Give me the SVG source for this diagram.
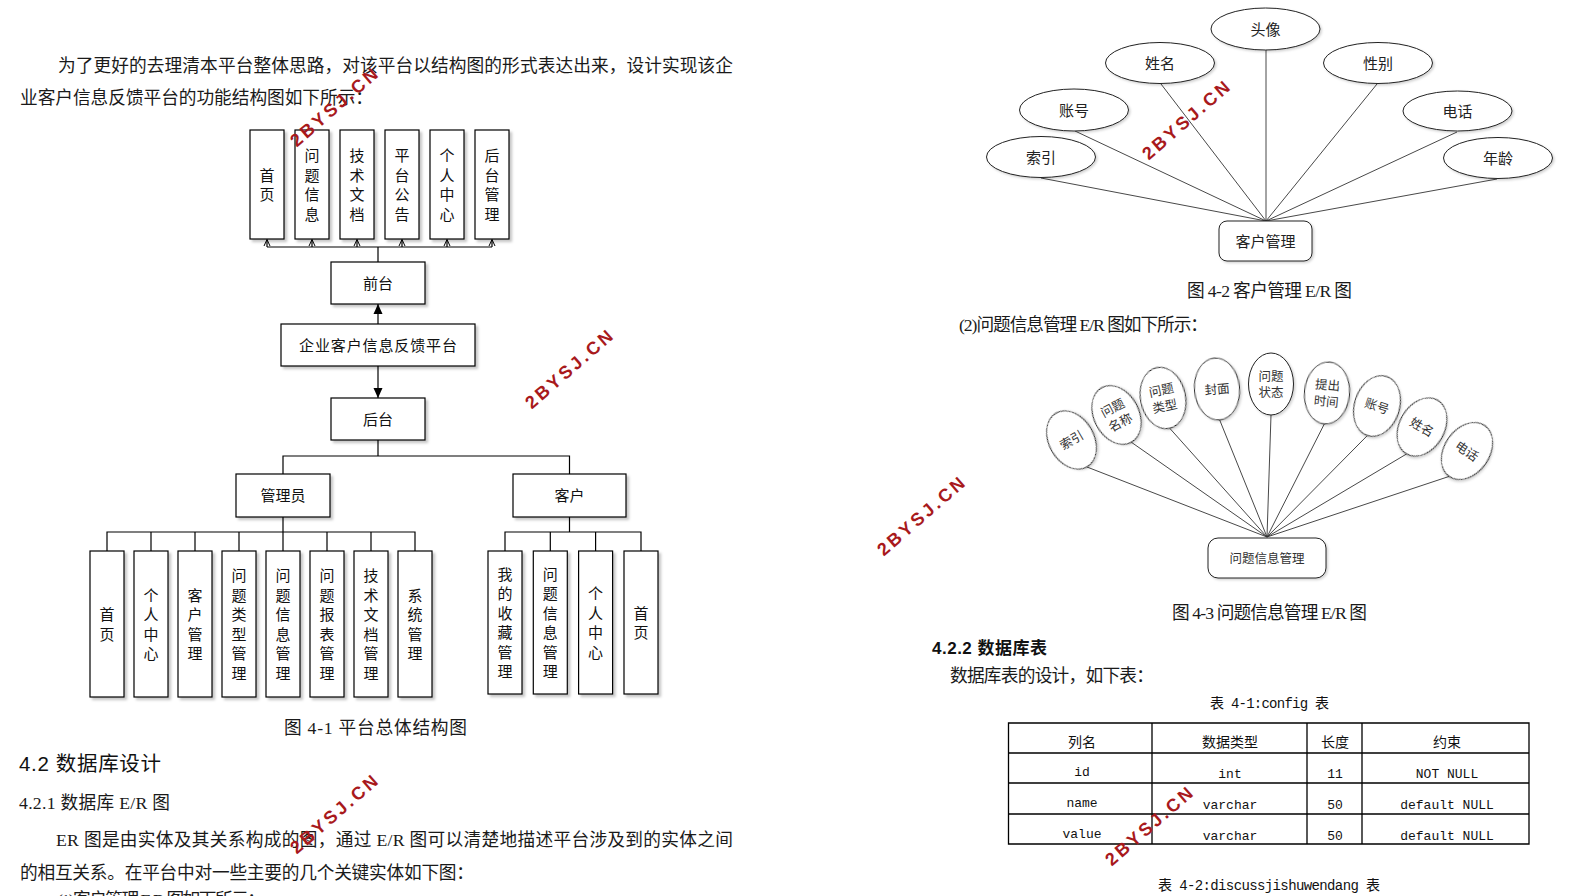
<svg xmlns="http://www.w3.org/2000/svg" width="1589" height="896" viewBox="0 0 1589 896">
<defs>
<style>
.bx{fill:#fff;stroke:#000;stroke-width:1.2;filter:url(#sh)}
.vt{font-family:"Noto Sans CJK SC",sans-serif;font-size:15px;fill:#111;text-anchor:middle}
.ct{font-family:"Noto Sans CJK SC",sans-serif;font-size:15px;fill:#111;text-anchor:middle}
.p{font-family:"Liberation Serif","Noto Sans CJK SC",serif;font-size:17.7px;fill:#1a1a1a}
.h{font-family:"Liberation Sans","Noto Sans CJK SC",sans-serif;fill:#111}
.ln{stroke:#000;stroke-width:1.2;fill:none}
.el{fill:#fff;stroke:#222;stroke-width:1;filter:url(#sh2)}
.erl{stroke:#333;stroke-width:0.9;fill:none}
.et{font-family:"Noto Sans CJK SC",sans-serif;font-size:15px;fill:#222;text-anchor:middle}
.e2{font-family:"Noto Sans CJK SC",sans-serif;font-size:12.5px;fill:#333;text-anchor:middle}
.tb{stroke:#000;stroke-width:1.3;fill:none}
.th{font-family:"Noto Sans CJK SC",sans-serif;font-size:14px;fill:#111;text-anchor:middle}
.tm{font-family:"Liberation Mono",monospace;font-size:13px;fill:#111;text-anchor:middle}
.wm{font-family:"Liberation Sans",sans-serif;font-weight:bold;font-size:18px;fill:#a8191c;letter-spacing:3px;text-anchor:middle}
</style>
<filter id="sh" x="-20%" y="-20%" width="150%" height="150%"><feDropShadow dx="2.5" dy="2.5" stdDeviation="1.2" flood-color="#000" flood-opacity="0.22"/></filter>
<filter id="sh2" x="-20%" y="-20%" width="150%" height="150%"><feDropShadow dx="1.5" dy="1.5" stdDeviation="1" flood-color="#000" flood-opacity="0.18"/></filter>
<marker id="oa" viewBox="0 0 8 8" refX="7.5" refY="4" markerWidth="8" markerHeight="8" markerUnits="userSpaceOnUse" orient="auto"><path d="M1,1 L7.5,4 L1,7" fill="none" stroke="#000" stroke-width="1"/></marker>
<marker id="fa" viewBox="0 0 10 10" refX="10" refY="5" markerWidth="10" markerHeight="10" markerUnits="userSpaceOnUse" orient="auto"><path d="M0,0.5 L10,5 L0,9.5 Z" fill="#000"/></marker>
</defs>
<rect width="1589" height="896" fill="#fff"/>

<!-- paragraph texts left -->
<g id="text-left">
<text class="p" x="58" y="71.7" textLength="675" lengthAdjust="spacing">为了更好的去理清本平台整体思路，对该平台以结构图的形式表达出来，设计实现该企</text>
<text class="p" x="20" y="103.5" textLength="353" lengthAdjust="spacing">业客户信息反馈平台的功能结构图如下所示：</text>
<text class="p" x="284" y="733.5" font-size="17" textLength="183" lengthAdjust="spacing">图 4-1  平台总体结构图</text>
<text class="h" x="19" y="770.5" font-size="20.5" textLength="142" lengthAdjust="spacing">4.2 数据库设计</text>
<text class="p" x="19" y="808.5" font-size="17" textLength="151" lengthAdjust="spacing">4.2.1 数据库 E/R 图</text>
<text class="p" x="56" y="846" textLength="677" lengthAdjust="spacing">ER 图是由实体及其关系构成的图，通过 E/R 图可以清楚地描述平台涉及到的实体之间</text>
<text class="p" x="20" y="879" textLength="454" lengthAdjust="spacing">的相互关系。在平台中对一些主要的几个关键实体如下图：</text>
<text class="p" x="57" y="906" textLength="208" lengthAdjust="spacing">(1)客户管理 E/R 图如下所示：</text>
</g>

<!-- structure diagram connectors -->
<g id="connectors">
<path class="ln" d="M267,247 H492 M378,262 V247"/>
<line class="ln" x1="267" y1="247" x2="267" y2="239.5" marker-end="url(#oa)"/>
<line class="ln" x1="312" y1="247" x2="312" y2="239.5" marker-end="url(#oa)"/>
<line class="ln" x1="357" y1="247" x2="357" y2="239.5" marker-end="url(#oa)"/>
<line class="ln" x1="402" y1="247" x2="402" y2="239.5" marker-end="url(#oa)"/>
<line class="ln" x1="447" y1="247" x2="447" y2="239.5" marker-end="url(#oa)"/>
<line class="ln" x1="492" y1="247" x2="492" y2="239.5" marker-end="url(#oa)"/>
<line class="ln" x1="378" y1="324" x2="378" y2="304" marker-end="url(#fa)"/>
<line class="ln" x1="378" y1="366" x2="378" y2="398" marker-end="url(#fa)"/>
<path class="ln" d="M378,440 V456 M283,474 V456 H569.5 V474"/>
<path class="ln" d="M283,517 V532 M107,551 V532 H415 V551 M151,532 V551 M195,532 V551 M239,532 V551 M283,532 V551 M327,532 V551 M371,532 V551"/>
<path class="ln" d="M569.5,517 V532 M505,551 V532 H641 V551 M550.3,532 V551 M595.6,532 V551"/>
<!-- ER 1 lines -->
<g class="erl">
<line x1="1041" y1="178" x2="1266" y2="221"/>
<line x1="1075" y1="131" x2="1266" y2="221"/>
<line x1="1161" y1="84" x2="1266" y2="221"/>
<line x1="1266" y1="50" x2="1266" y2="221"/>
<line x1="1377" y1="84" x2="1266" y2="221"/>
<line x1="1457" y1="132" x2="1266" y2="221"/>
<line x1="1497" y1="179" x2="1266" y2="221"/>
</g>
<!-- ER 2 lines -->
<g class="erl">
<line x1="1087" y1="467" x2="1267" y2="537"/>
<line x1="1131" y1="442" x2="1267" y2="537"/>
<line x1="1169.5" y1="428" x2="1267" y2="537"/>
<line x1="1219.7" y1="420" x2="1267" y2="537"/>
<line x1="1271" y1="415" x2="1267" y2="537"/>
<line x1="1324.3" y1="424" x2="1267" y2="537"/>
<line x1="1367.4" y1="435.5" x2="1267" y2="537"/>
<line x1="1406.5" y1="454" x2="1267" y2="537"/>
<line x1="1449.2" y1="476.4" x2="1267" y2="537"/>
</g>
</g>

<!-- top row -->
<g id="n-top-shouye"><rect class="bx" x="250" y="130" width="34" height="109"/><text class="vt"><tspan x="267" y="180.5">首</tspan><tspan x="267" y="200">页</tspan></text></g>
<g id="n-top-wenti"><rect class="bx" x="295" y="130" width="34" height="109"/><text class="vt"><tspan x="312" y="161">问</tspan><tspan x="312" y="180.5">题</tspan><tspan x="312" y="200">信</tspan><tspan x="312" y="219.5">息</tspan></text></g>
<g id="n-top-jishu"><rect class="bx" x="340" y="130" width="34" height="109"/><text class="vt"><tspan x="357" y="161">技</tspan><tspan x="357" y="180.5">术</tspan><tspan x="357" y="200">文</tspan><tspan x="357" y="219.5">档</tspan></text></g>
<g id="n-top-gonggao"><rect class="bx" x="385" y="130" width="34" height="109"/><text class="vt"><tspan x="402" y="161">平</tspan><tspan x="402" y="180.5">台</tspan><tspan x="402" y="200">公</tspan><tspan x="402" y="219.5">告</tspan></text></g>
<g id="n-top-geren"><rect class="bx" x="430" y="130" width="34" height="109"/><text class="vt"><tspan x="447" y="161">个</tspan><tspan x="447" y="180.5">人</tspan><tspan x="447" y="200">中</tspan><tspan x="447" y="219.5">心</tspan></text></g>
<g id="n-top-houtai"><rect class="bx" x="475" y="130" width="34" height="109"/><text class="vt"><tspan x="492" y="161">后</tspan><tspan x="492" y="180.5">台</tspan><tspan x="492" y="200">管</tspan><tspan x="492" y="219.5">理</tspan></text></g>

<g id="n-qiantai"><rect class="bx" x="331" y="262" width="94" height="42"/><text class="ct" x="378" y="288.7">前台</text></g>
<g id="n-platform"><rect class="bx" x="281" y="324" width="194" height="42"/><text class="ct" x="378" y="350.7" textLength="158" lengthAdjust="spacing">企业客户信息反馈平台</text></g>
<g id="n-houtai"><rect class="bx" x="331" y="398" width="94" height="42"/><text class="ct" x="378" y="424.7">后台</text></g>
<g id="n-admin"><rect class="bx" x="236" y="474" width="94" height="43"/><text class="ct" x="283" y="501.2">管理员</text></g>
<g id="n-customer"><rect class="bx" x="513" y="474" width="113" height="43"/><text class="ct" x="569.5" y="501.2">客户</text></g>

<!-- admin row -->
<g id="n-a1"><rect class="bx" x="90" y="551" width="34" height="146"/><text class="vt"><tspan x="107" y="620">首</tspan><tspan x="107" y="639.5">页</tspan></text></g>
<g id="n-a2"><rect class="bx" x="134" y="551" width="34" height="146"/><text class="vt"><tspan x="151" y="600.5">个</tspan><tspan x="151" y="620">人</tspan><tspan x="151" y="639.5">中</tspan><tspan x="151" y="659">心</tspan></text></g>
<g id="n-a3"><rect class="bx" x="178" y="551" width="34" height="146"/><text class="vt"><tspan x="195" y="600.5">客</tspan><tspan x="195" y="620">户</tspan><tspan x="195" y="639.5">管</tspan><tspan x="195" y="659">理</tspan></text></g>
<g id="n-a4"><rect class="bx" x="222" y="551" width="34" height="146"/><text class="vt"><tspan x="239" y="581">问</tspan><tspan x="239" y="600.5">题</tspan><tspan x="239" y="620">类</tspan><tspan x="239" y="639.5">型</tspan><tspan x="239" y="659">管</tspan><tspan x="239" y="678.5">理</tspan></text></g>
<g id="n-a5"><rect class="bx" x="266" y="551" width="34" height="146"/><text class="vt"><tspan x="283" y="581">问</tspan><tspan x="283" y="600.5">题</tspan><tspan x="283" y="620">信</tspan><tspan x="283" y="639.5">息</tspan><tspan x="283" y="659">管</tspan><tspan x="283" y="678.5">理</tspan></text></g>
<g id="n-a6"><rect class="bx" x="310" y="551" width="34" height="146"/><text class="vt"><tspan x="327" y="581">问</tspan><tspan x="327" y="600.5">题</tspan><tspan x="327" y="620">报</tspan><tspan x="327" y="639.5">表</tspan><tspan x="327" y="659">管</tspan><tspan x="327" y="678.5">理</tspan></text></g>
<g id="n-a7"><rect class="bx" x="354" y="551" width="34" height="146"/><text class="vt"><tspan x="371" y="581">技</tspan><tspan x="371" y="600.5">术</tspan><tspan x="371" y="620">文</tspan><tspan x="371" y="639.5">档</tspan><tspan x="371" y="659">管</tspan><tspan x="371" y="678.5">理</tspan></text></g>
<g id="n-a8"><rect class="bx" x="398" y="551" width="34" height="146"/><text class="vt"><tspan x="415" y="600.5">系</tspan><tspan x="415" y="620">统</tspan><tspan x="415" y="639.5">管</tspan><tspan x="415" y="659">理</tspan></text></g>

<!-- customer row -->
<g id="n-c1"><rect class="bx" x="488" y="551" width="34" height="143"/><text class="vt"><tspan x="505" y="579.5">我</tspan><tspan x="505" y="599">的</tspan><tspan x="505" y="618.5">收</tspan><tspan x="505" y="638">藏</tspan><tspan x="505" y="657.5">管</tspan><tspan x="505" y="677">理</tspan></text></g>
<g id="n-c2"><rect class="bx" x="533.3" y="551" width="34" height="143"/><text class="vt"><tspan x="550.3" y="579.5">问</tspan><tspan x="550.3" y="599">题</tspan><tspan x="550.3" y="618.5">信</tspan><tspan x="550.3" y="638">息</tspan><tspan x="550.3" y="657.5">管</tspan><tspan x="550.3" y="677">理</tspan></text></g>
<g id="n-c3"><rect class="bx" x="578.6" y="551" width="34" height="143"/><text class="vt"><tspan x="595.6" y="599">个</tspan><tspan x="595.6" y="618.5">人</tspan><tspan x="595.6" y="638">中</tspan><tspan x="595.6" y="657.5">心</tspan></text></g>
<g id="n-c4"><rect class="bx" x="624" y="551" width="34" height="143"/><text class="vt"><tspan x="641" y="618.5">首</tspan><tspan x="641" y="638">页</tspan></text></g>

<!-- ER 1 -->
<g id="er1-touxiang"><ellipse class="el" cx="1265.5" cy="29" rx="54.5" ry="21"/><text class="et" x="1265.5" y="34.7">头像</text></g>
<g id="er1-xingming"><ellipse class="el" cx="1160" cy="63" rx="54.5" ry="20.5"/><text class="et" x="1160" y="68.7">姓名</text></g>
<g id="er1-zhanghao"><ellipse class="el" cx="1074" cy="110" rx="54.5" ry="21"/><text class="et" x="1074" y="115.7">账号</text></g>
<g id="er1-suoyin"><ellipse class="el" cx="1041" cy="157" rx="54.5" ry="20.5"/><text class="et" x="1041" y="162.7">索引</text></g>
<g id="er1-xingbie"><ellipse class="el" cx="1378" cy="63" rx="54.5" ry="20.5"/><text class="et" x="1378" y="68.7">性别</text></g>
<g id="er1-dianhua"><ellipse class="el" cx="1457.5" cy="111" rx="54.5" ry="20"/><text class="et" x="1457.5" y="116.7">电话</text></g>
<g id="er1-nianling"><ellipse class="el" cx="1498" cy="158" rx="54.5" ry="20.5"/><text class="et" x="1498" y="163.7">年龄</text></g>
<g id="er1-hub"><rect class="el" x="1219" y="221" width="93" height="40" rx="8"/><text class="et" x="1265.5" y="246.7">客户管理</text></g>
<text class="p" x="1187" y="296.5" font-size="17" textLength="165" lengthAdjust="spacing">图 4-2 客户管理 E/R 图</text>

<!-- ER 2 -->
<text class="p" x="959" y="331" font-size="16" textLength="249" lengthAdjust="spacing">(2)问题信息管理 E/R 图如下所示：</text>
<g id="er2-suoyin" transform="translate(1071.5,440) rotate(-30)"><ellipse class="el" rx="22.5" ry="31"/><text class="e2" y="4.7">索引</text></g>
<g id="er2-mingcheng" transform="translate(1116.5,415) rotate(-28)"><ellipse class="el" rx="22.5" ry="31"/><text class="e2"><tspan x="0" y="-3.5">问题</tspan><tspan x="0" y="13">名称</tspan></text></g>
<g id="er2-leixing" transform="translate(1163,398) rotate(-12)"><ellipse class="el" rx="22.5" ry="31"/><text class="e2"><tspan x="0" y="-3.5">问题</tspan><tspan x="0" y="13">类型</tspan></text></g>
<g id="er2-fengmian" transform="translate(1217,389) rotate(-5)"><ellipse class="el" rx="22.5" ry="31"/><text class="e2" y="4.7">封面</text></g>
<g id="er2-zhuangtai" transform="translate(1271,384)"><ellipse class="el" rx="22.5" ry="31"/><text class="e2"><tspan x="0" y="-3.5">问题</tspan><tspan x="0" y="13">状态</tspan></text></g>
<g id="er2-shijian" transform="translate(1327,393) rotate(5)"><ellipse class="el" rx="22.5" ry="31"/><text class="e2"><tspan x="0" y="-3.5">提出</tspan><tspan x="0" y="13">时间</tspan></text></g>
<g id="er2-zhanghao" transform="translate(1377,406) rotate(18)"><ellipse class="el" rx="22.5" ry="31"/><text class="e2" y="4.7">账号</text></g>
<g id="er2-xingming" transform="translate(1422,427) rotate(30)"><ellipse class="el" rx="22.5" ry="31"/><text class="e2" y="4.7">姓名</text></g>
<g id="er2-dianhua" transform="translate(1467,451) rotate(35)"><ellipse class="el" rx="22.5" ry="31"/><text class="e2" y="4.7">电话</text></g>
<g id="er2-hub"><rect class="el" x="1208" y="538" width="118" height="40" rx="10"/><text class="e2" x="1267" y="562.8">问题信息管理</text></g>
<text class="p" x="1172" y="618.5" font-size="17" textLength="195" lengthAdjust="spacing">图 4-3 问题信息管理 E/R 图</text>

<!-- table section -->
<g id="text-right">
<text class="h" x="932" y="653.5" font-size="17" font-weight="bold" textLength="115" lengthAdjust="spacing">4.2.2 数据库表</text>
<text class="p" x="950" y="681.5" font-size="17" textLength="204" lengthAdjust="spacing">数据库表的设计，如下表：</text>
<text x="1210" y="708.3" font-family="'Liberation Mono','Noto Sans CJK SC',monospace" font-size="14" fill="#111" textLength="119" lengthAdjust="spacing">表 4-1:config 表</text>
<text x="1158" y="890.3" font-family="'Liberation Mono','Noto Sans CJK SC',monospace" font-size="14" fill="#111" textLength="222" lengthAdjust="spacing">表 4-2:discussjishuwendang 表</text>
</g>
<g id="table-config">
<rect class="tb" x="1008.5" y="723" width="1521.5" height="121" style="display:none"/>
<path class="tb" d="M1008.5,723 H1529 V844 H1008.5 Z M1152,723 V844 M1307,723 V844 M1362,723 V844 M1008.5,753 H1529 M1008.5,783 H1529 M1008.5,814 H1529"/>
<text class="th" x="1082" y="746.5">列名</text>
<text class="th" x="1230" y="746.5">数据类型</text>
<text class="th" x="1335" y="746.5">长度</text>
<text class="th" x="1447" y="746.5">约束</text>
<text class="tm" x="1082" y="775.5">id</text>
<text class="tm" x="1230" y="778">int</text>
<text class="tm" x="1335" y="778">11</text>
<text class="tm" x="1447" y="778">NOT NULL</text>
<text class="tm" x="1082" y="807">name</text>
<text class="tm" x="1230" y="809">varchar</text>
<text class="tm" x="1335" y="809">50</text>
<text class="tm" x="1447" y="809">default NULL</text>
<text class="tm" x="1082" y="838">value</text>
<text class="tm" x="1230" y="840">varchar</text>
<text class="tm" x="1335" y="840">50</text>
<text class="tm" x="1447" y="840">default NULL</text>
</g>

<!-- watermarks -->
<g id="watermarks">
<text class="wm" transform="translate(339,111) rotate(-41)">2BYSJ.CN</text>
<text class="wm" transform="translate(574,373) rotate(-41)">2BYSJ.CN</text>
<text class="wm" transform="translate(339,818) rotate(-41)">2BYSJ.CN</text>
<text class="wm" transform="translate(1191,124) rotate(-41)">2BYSJ.CN</text>
<text class="wm" transform="translate(926,520) rotate(-41)">2BYSJ.CN</text>
<text class="wm" transform="translate(1154,830) rotate(-41)">2BYSJ.CN</text>
</g>
</svg>
